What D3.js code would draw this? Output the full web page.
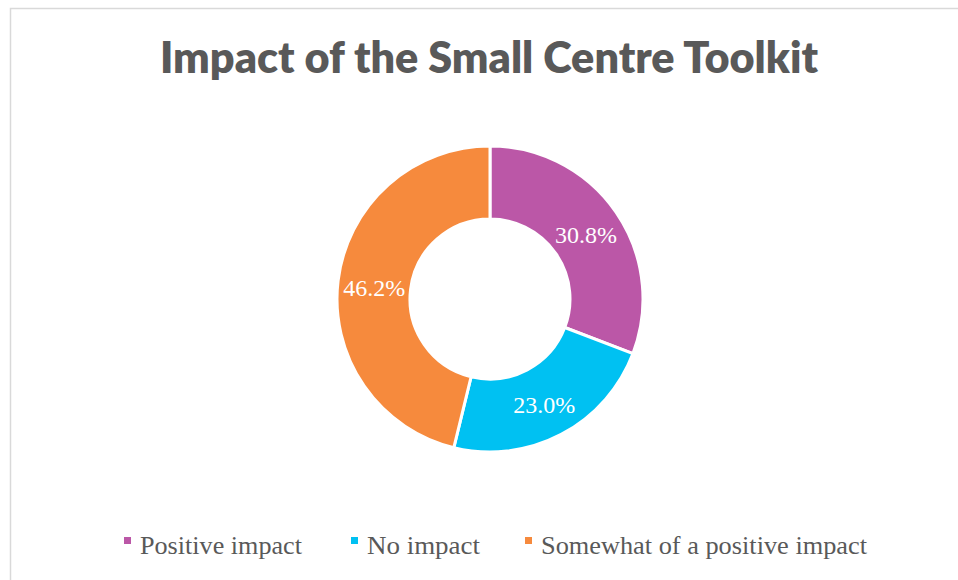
<!DOCTYPE html>
<html>
<head>
<meta charset="utf-8">
<script src="https://cdn.jsdelivr.net/npm/d3@7"></script>
<style>
  html, body { margin: 0; padding: 0; background: #fff; }
  svg { display: block; }
</style>
</head>
<body>
<svg id="chart" width="958" height="580"></svg>
<script>
const title = "Impact of the Small Centre Toolkit";
const categories = ["Positive impact", "No impact", "Somewhat of a positive impact"];
const values = [30.8, 23.0, 46.2];
const labels = ["30.8%", "23.0%", "46.2%"];
const colors = ["#BB57A7", "#00C1F2", "#F68A3D"];

const svg = d3.select("#chart");
const W = 958, H = 580;

// chart area border
svg.append("rect")
  .attr("x", 10.5).attr("y", 8.5)
  .attr("width", W + 20).attr("height", H + 20)
  .attr("fill", "#fff")
  .attr("stroke", "#d9d9d9")
  .attr("stroke-width", 1.5);

// title
svg.append("text")
  .attr("x", 489).attr("y", 73)
  .attr("text-anchor", "middle")
  .attr("font-family", "Lato, 'Open Sans', sans-serif")
  .attr("font-weight", 800)
  .attr("font-size", 43)
  .attr("fill", "#595959")
  .attr("textLength", 658)
  .attr("lengthAdjust", "spacingAndGlyphs")
  .text(title);

// donut
const cx = 490, cy = 299, rOuter = 153, rInner = 80;
const pie = d3.pie().sort(null).value(d => d)
  .startAngle(0).endAngle(2 * Math.PI);
const arcs = pie(values);
const arc = d3.arc().innerRadius(rInner).outerRadius(rOuter);
const labelArc = d3.arc().innerRadius((rInner + rOuter) / 2).outerRadius((rInner + rOuter) / 2);

const g = svg.append("g").attr("transform", `translate(${cx},${cy})`);
g.selectAll("path.slice")
  .data(arcs)
  .join("path")
  .attr("class", "slice")
  .attr("d", arc)
  .attr("fill", (d, i) => colors[i])
  .attr("stroke", "#fff")
  .attr("stroke-width", 3)
  .attr("stroke-linejoin", "miter");

g.selectAll("text.lbl")
  .data(arcs)
  .join("text")
  .attr("class", "lbl")
  .attr("transform", d => {
    const [x, y] = labelArc.centroid(d);
    return `translate(${x},${y + 2})`;
  })
  .attr("text-anchor", "middle")
  .attr("dy", "0.35em")
  .attr("font-family", "'Liberation Serif', 'Times New Roman', serif")
  .attr("font-size", 24)
  .attr("fill", "#fff")
  .text((d, i) => labels[i]);

// legend
const legendX = [124, 351, 525];
const legendW = [162, 113, 326];
const legY = 545;
const leg = svg.append("g");
categories.forEach((c, i) => {
  leg.append("rect")
    .attr("x", legendX[i]).attr("y", legY - 8)
    .attr("width", 7).attr("height", 7)
    .attr("fill", colors[i]);
  leg.append("text")
    .attr("x", legendX[i] + 16).attr("y", legY)
    .attr("dy", "0.35em")
    .attr("font-family", "'Liberation Serif', 'Times New Roman', serif")
    .attr("font-size", 25)
    .attr("fill", "#595959")
    .attr("textLength", legendW[i])
    .attr("lengthAdjust", "spacingAndGlyphs")
    .text(c);
});
</script>
</body>
</html>
